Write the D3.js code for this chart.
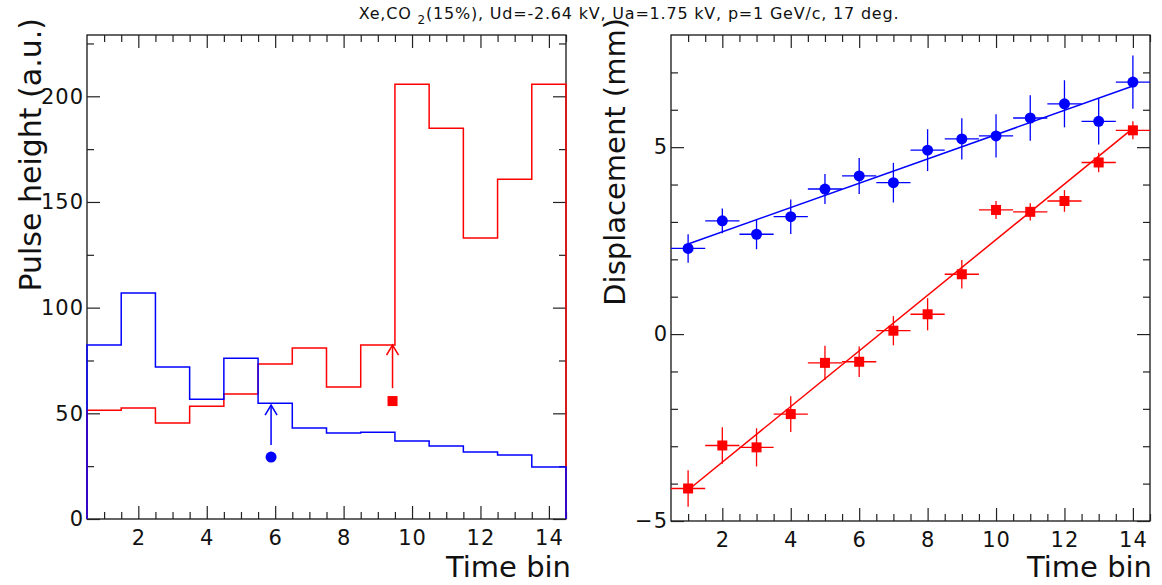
<!DOCTYPE html>
<html>
<head>
<meta charset="utf-8">
<script src="https://cdn.jsdelivr.net/npm/d3@7"></script>
<style>
  body { margin: 0; background: #fff; }
  text { font-family: "DejaVu Sans", sans-serif; fill: #111; }
</style>
</head>
<body>
<script>
// ----------------------------------------
//  Data
// ----------------------------------------

var timeBins = [1, 2, 3, 4, 5, 6, 7, 8, 9, 10, 11, 12, 13, 14];

// left pad: pulse height histograms
var pulseBlue = [82.3, 106.9, 71.9, 56.7, 76.1, 54.8, 43.0, 40.7, 41.1, 36.9, 34.5, 31.7, 30.3, 24.6];
var pulseRed  = [51.5, 52.5, 45.4, 53.4, 59.1, 73.3, 80.9, 62.4, 82.3, 205.7, 184.9, 132.9, 160.8, 205.7];

// marker + arrow: [x, markerY, arrowFrom, arrowTo]
var markBlue = [5.88, 29.3, 35.0, 53.9];
var markRed  = [9.43, 55.8, 61.9, 82.3];

// right pad: displacement
var dispBlue    = [2.29, 3.03, 2.67, 3.14, 3.88, 4.23, 4.05, 4.92, 5.22, 5.30, 5.78, 6.16, 5.69, 6.74];
var dispBlueErr = [0.38, 0.33, 0.40, 0.46, 0.40, 0.48, 0.53, 0.56, 0.55, 0.58, 0.61, 0.63, 0.62, 0.71];
var dispRed     = [-4.13, -2.98, -3.03, -2.14, -0.77, -0.74, 0.09, 0.53, 1.60, 3.32, 3.27, 3.56, 4.59, 5.45];
var dispRedErr  = [0.49, 0.49, 0.51, 0.48, 0.46, 0.41, 0.39, 0.43, 0.38, 0.24, 0.23, 0.29, 0.26, 0.24];

// straight line fits: [intercept, slope]
var fitBlue = [2.085, 0.325];
var fitRed  = [-4.914, 0.744];

// ticks
var xMajor = [2, 4, 6, 8, 10, 12, 14];
var xMinor = d3.range(1, 14.51, 0.5).filter(function(v) { return v % 2 !== 0; });
var phMajor = [0, 50, 100, 150, 200];
var phMinor = [25, 75, 125, 175, 225];
var dMajor = [-5, 0, 5];
var dMinor = [-4, -3, -2, -1, 1, 2, 3, 4, 6, 7];

var titleText = ["Xe,CO ", "2", "(15%), Ud=-2.64 kV, Ua=1.75 kV, p=1 GeV/c, 17 deg."];

// ----------------------------------------
//  Setup
// ----------------------------------------

var W = 1162, H = 585;
var blue = "#0000ff", red = "#ff0000";

var svg = d3.select("body").append("svg")
    .attr("width", W)
    .attr("height", H);

function frameAxes(g, x, y, w, h, yMajor, yMinor) {
  g.append("rect")
    .attr("width", w).attr("height", h)
    .attr("fill", "none").attr("stroke", "#000").attr("stroke-width", 1.2);

  // bottom with labels
  var b = g.append("g").attr("transform", "translate(0," + h + ")")
    .call(d3.axisBottom(x).tickValues(xMajor).tickSizeInner(-13).tickSizeOuter(0).tickPadding(11));
  b.selectAll("text").style("font-size", "21px").style("letter-spacing", "1px");
  g.append("g").attr("transform", "translate(0," + h + ")")
    .call(d3.axisBottom(x).tickValues(xMinor).tickSizeInner(-7).tickSizeOuter(0).tickFormat(""));
  // top
  g.append("g").call(d3.axisTop(x).tickValues(xMajor).tickSizeInner(-13).tickSizeOuter(0).tickFormat(""));
  g.append("g").call(d3.axisTop(x).tickValues(xMinor).tickSizeInner(-7).tickSizeOuter(0).tickFormat(""));
  // left with labels
  var l = g.append("g")
    .call(d3.axisLeft(y).tickValues(yMajor).tickSizeInner(-13).tickSizeOuter(0).tickPadding(3));
  l.selectAll("text").style("font-size", "21px").style("letter-spacing", "1px");
  g.append("g").call(d3.axisLeft(y).tickValues(yMinor).tickSizeInner(-7).tickSizeOuter(0).tickFormat(""));
  // right
  g.append("g").attr("transform", "translate(" + w + ",0)")
    .call(d3.axisRight(y).tickValues(yMajor).tickSizeInner(-13).tickSizeOuter(0).tickFormat(""));
  g.append("g").attr("transform", "translate(" + w + ",0)")
    .call(d3.axisRight(y).tickValues(yMinor).tickSizeInner(-7).tickSizeOuter(0).tickFormat(""));

  g.selectAll(".domain").remove();
  g.selectAll(".tick line").attr("stroke", "#222").attr("stroke-width", 1.2);
}

// ----------------------------------------
//  Left pad: pulse height
// ----------------------------------------

var L = {left: 87, top: 35, w: 479, h: 484};
var gL = svg.append("g").attr("transform", "translate(" + L.left + "," + L.top + ")");
var xL = d3.scaleLinear().domain([0.5, 14.5]).range([0, L.w]);
var yL = d3.scaleLinear().domain([0, 229]).range([L.h, 0]);

frameAxes(gL, xL, yL, L.w, L.h, phMajor, phMinor);

function histPoints(vals) {
  var pts = [[0.5, 0]];
  timeBins.forEach(function(t, i) { pts.push([t - 0.5, vals[i]]); });
  pts.push([14.5, vals[vals.length - 1]]);
  pts.push([14.5, 0]);
  return pts;
}

var step = d3.line()
    .x(function(d) { return xL(d[0]); })
    .y(function(d) { return yL(d[1]); })
    .curve(d3.curveStepAfter);

gL.append("path").datum(histPoints(pulseRed))
    .attr("d", step).attr("fill", "none").attr("stroke", red).attr("stroke-width", 1.5);
gL.append("path").datum(histPoints(pulseBlue))
    .attr("d", step).attr("fill", "none").attr("stroke", blue).attr("stroke-width", 1.5);

function arrow(m, col) {
  var ax = xL(m[0]), y0 = yL(m[2]), y1 = yL(m[3]);
  gL.append("line").attr("x1", ax).attr("x2", ax).attr("y1", y0).attr("y2", y1)
    .attr("stroke", col).attr("stroke-width", 1.5);
  gL.append("path")
    .attr("d", "M" + (ax - 6) + "," + (y1 + 10) + "L" + ax + "," + y1 + "L" + (ax + 6) + "," + (y1 + 10))
    .attr("fill", "none").attr("stroke", col).attr("stroke-width", 1.5);
}
arrow(markBlue, blue);
arrow(markRed, red);

gL.append("circle")
    .attr("cx", xL(markBlue[0])).attr("cy", yL(markBlue[1])).attr("r", 5.5).attr("fill", blue);
gL.append("rect")
    .attr("x", xL(markRed[0]) - 5).attr("y", yL(markRed[1]) - 5)
    .attr("width", 10).attr("height", 10).attr("fill", red);

// axis titles
svg.append("text")
    .attr("transform", "translate(41,18) rotate(-90)")
    .attr("text-anchor", "end")
    .style("font-size", "30px")
    .text("Pulse height (a.u.)");
svg.append("text")
    .attr("x", 571).attr("y", 577)
    .attr("text-anchor", "end")
    .style("font-size", "29px")
    .text("Time bin");

// ----------------------------------------
//  Right pad: displacement
// ----------------------------------------

var R = {left: 671, top: 35, w: 479, h: 486};
var gR = svg.append("g").attr("transform", "translate(" + R.left + "," + R.top + ")");
var xR = d3.scaleLinear().domain([0.5, 14.5]).range([0, R.w]);
var yR = d3.scaleLinear().domain([-5, 8]).range([R.h, 0]);

frameAxes(gR, xR, yR, R.w, R.h, dMajor, dMinor);

function fitLine(f, col) {
  gR.append("line")
    .attr("x1", xR(1)).attr("y1", yR(f[0] + f[1] * 1))
    .attr("x2", xR(14)).attr("y2", yR(f[0] + f[1] * 14))
    .attr("stroke", col).attr("stroke-width", 1.5);
}

function points(vals, errs, col, shape) {
  var data = timeBins.map(function(t, i) { return {t: t, v: vals[i], e: errs[i]}; });
  var g = gR.append("g");
  g.selectAll(".hbar").data(data).enter().append("line")
    .attr("x1", function(d) { return xR(d.t - 0.5); })
    .attr("x2", function(d) { return xR(d.t + 0.5); })
    .attr("y1", function(d) { return yR(d.v); })
    .attr("y2", function(d) { return yR(d.v); })
    .attr("stroke", col).attr("stroke-width", 1.3);
  g.selectAll(".vbar").data(data).enter().append("line")
    .attr("x1", function(d) { return xR(d.t); })
    .attr("x2", function(d) { return xR(d.t); })
    .attr("y1", function(d) { return yR(d.v - d.e); })
    .attr("y2", function(d) { return yR(d.v + d.e); })
    .attr("stroke", col).attr("stroke-width", 1.3);
  if (shape === "circle") {
    g.selectAll(".m").data(data).enter().append("circle")
      .attr("cx", function(d) { return xR(d.t); })
      .attr("cy", function(d) { return yR(d.v); })
      .attr("r", 5.5).attr("fill", col);
  } else {
    g.selectAll(".m").data(data).enter().append("rect")
      .attr("x", function(d) { return xR(d.t) - 5; })
      .attr("y", function(d) { return yR(d.v) - 5; })
      .attr("width", 10).attr("height", 10).attr("fill", col);
  }
}

fitLine(fitRed, red);
fitLine(fitBlue, blue);
points(dispRed, dispRedErr, red, "square");
points(dispBlue, dispBlueErr, blue, "circle");

svg.append("text")
    .attr("transform", "translate(625,18) rotate(-90)")
    .attr("text-anchor", "end")
    .style("font-size", "29px")
    .text("Displacement (mm)");
svg.append("text")
    .attr("x", 1152).attr("y", 577)
    .attr("text-anchor", "end")
    .style("font-size", "29px")
    .text("Time bin");

// ----------------------------------------
//  Title
// ----------------------------------------

var t = svg.append("text")
    .attr("x", 629).attr("y", 19)
    .attr("text-anchor", "middle")
    .style("font-size", "16px")
    .style("letter-spacing", "0.8px");
t.append("tspan").text(titleText[0]);
t.append("tspan").attr("dy", 5).style("font-size", "12px").text(titleText[1]);
t.append("tspan").attr("dy", -5).text(titleText[2]);
</script>
</body>
</html>
